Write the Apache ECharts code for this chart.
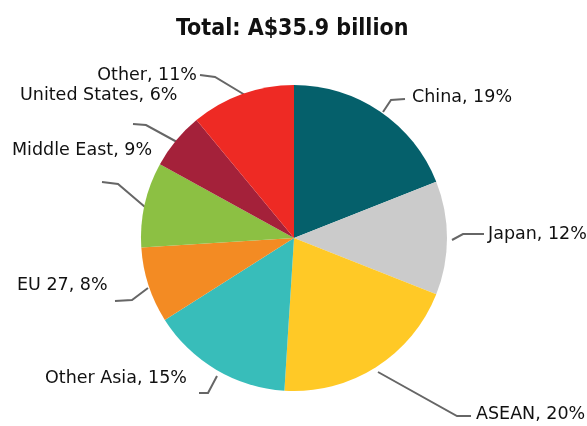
<!DOCTYPE html>
<html><head><meta charset="utf-8">
<script src="https://cdn.jsdelivr.net/npm/echarts@6/dist/echarts.min.js"></script>
<style>html,body{margin:0;padding:0;background:#fff}#c{width:587px;height:426px}</style>
</head><body><div id="c"></div>
<script>
const categories = ['China','Japan','ASEAN','Other Asia','EU 27','Middle East','United States','Other'];
const shares = [19,12,20,15,8,9,6,11];
const colors = ['#05606B','#CBCBCB','#FFC926','#38BDBA','#F38B23','#8CC043','#A4213A','#EE2A24'];
const titleText = 'Total: A$35.9 billion';

// label placement (annotation layout)
const labelSpots = [
  {x:412,y:97,align:'left', line:[[383,112],[391,100],[405,99]]},
  {x:488,y:234,align:'left', line:[[452,240],[463,234],[484,234]]},
  {x:476,y:414,align:'left', line:[[378,372],[457,416],[471,416]]},
  {x:45,y:378,align:'left', line:[[217,376],[208,393],[199,393]]},
  {x:17,y:285,align:'left', line:[[148,288],[132,300],[115,301]]},
  {x:12,y:150,align:'left', line:[[145,207],[118,184],[102,182]]},
  {x:20,y:95,align:'left', line:[[177,142],[146,125],[133,124]]},
  {x:197,y:75,align:'right', line:[[245,95],[215,77],[200,75]]}
];

const chart = echarts.init(document.getElementById('c'), null, {renderer:'canvas'});
chart.setOption({
  animation:false,
  title:{text:titleText,left:171,top:13,
    textStyle:{fontFamily:'"Liberation Sans Narrow","DejaVu Sans Condensed",sans-serif',fontWeight:'bold',fontSize:23,color:'#111'}},
  series:[{
    type:'pie',
    center:[294,238],
    radius:153,
    startAngle:90,
    clockwise:true,
    data:categories.map((n,i)=>({name:n,value:shares[i],itemStyle:{color:colors[i]}})),
    label:{show:true,formatter:'{b}, {c}%',fontFamily:'"DejaVu Sans",sans-serif',fontSize:17.5,color:'#111',overflow:'none'},
    labelLine:{show:true,lineStyle:{color:'#666',width:2}},
    labelLayout:function(p){
      const s = labelSpots[p.dataIndex];
      return {x:s.x,y:s.y,align:s.align,verticalAlign:'middle',width:300,labelLinePoints:s.line};
    },
    itemStyle:{borderWidth:0}
  }]
});
</script></body></html>
